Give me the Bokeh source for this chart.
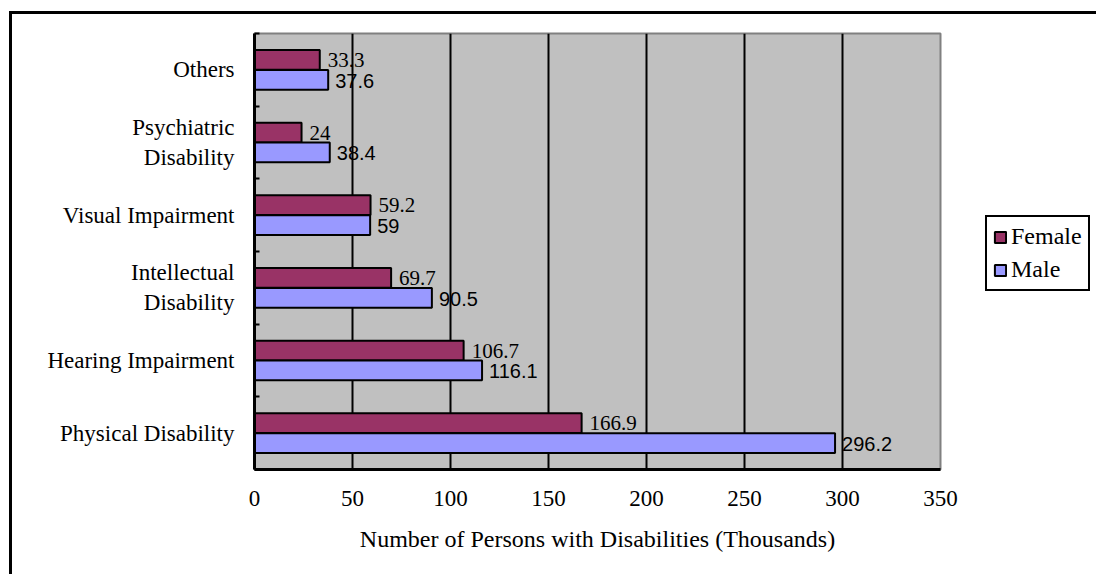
from bokeh.plotting import figure
from bokeh.models import (Range1d, FixedTicker, ColumnDataSource, Legend, LegendItem,
                          LinearAxis, Grid)
from bokeh.embed import file_html
from bokeh.resources import INLINE
from bokeh.core.properties import value
import numpy as np

# Data (bottom to top)
categories = ["Physical Disability", "Hearing Impairment", "Intellectual\nDisability",
              "Visual Impairment", "Psychiatric\nDisability", "Others"]
female = [166.9, 106.7, 69.7, 59.2, 24, 33.3]
male = [296.2, 116.1, 90.5, 59, 38.4, 37.6]
female_labels = ["166.9", "106.7", "69.7", "59.2", "24", "33.3"]
male_labels = ["296.2", "116.1", "90.5", "59", "38.4", "37.6"]
x_ticks = [0, 50, 100, 150, 200, 250, 300, 350]
x_title = "Number of Persons with Disabilities (Thousands)"

SERIF = "Liberation Serif"
SANS = "Liberation Sans"

n = len(categories)
idx = np.arange(n)
offset = 0.137
bar_h = 0.272

OX, OY = 12, 14  # canvas offset caused by outer border (margin + border)

p = figure(frame_width=686, frame_height=436, output_backend="svg", toolbar_location=None,
           x_range=Range1d(0, 350), y_range=Range1d(-0.5, n - 0.5),
           x_axis_location=None, y_axis_location=None,
           min_border_left=254 - OX, min_border_right=156, min_border_top=33 - OY,
           min_border_bottom=107 - 2)
p.styles = {"margin-left": "9px", "margin-top": "11px",
            "border-left": "3px solid black", "border-top": "3px solid black"}
p.background_fill_color = "#C0C0C0"
p.border_fill_color = "white"
p.outline_line_color = "#808080"
p.outline_line_width = 2

src_f = ColumnDataSource(dict(y=(idx + offset).tolist(), v=female, lab=female_labels))
src_m = ColumnDataSource(dict(y=(idx - offset).tolist(), v=male, lab=male_labels))

rf = p.hbar(y="y", right="v", left=0, height=bar_h, source=src_f,
            fill_color="#993366", line_color="black", line_width=2)
rm = p.hbar(y="y", right="v", left=0, height=bar_h, source=src_m,
            fill_color="#9999FF", line_color="black", line_width=2)

p.text(x="v", y="y", text="lab", source=src_f, x_offset=8, y_offset=0,
       text_font=value(SERIF), text_font_size="21px", text_baseline="middle",
       text_align="left", text_color="black")
p.text(x="v", y="y", text="lab", source=src_m, x_offset=7, y_offset=1,
       text_font=value(SANS), text_font_size="20px", text_baseline="middle",
       text_align="left", text_color="black")

# X axis
xaxis = LinearAxis(ticker=FixedTicker(ticks=x_ticks), axis_label=x_title)
xaxis.axis_line_color = "black"
xaxis.axis_line_width = 3
xaxis.major_tick_line_color = None
xaxis.minor_tick_line_color = None
xaxis.major_tick_out = 0
xaxis.major_tick_in = 0
xaxis.major_label_standoff = 21
xaxis.major_label_text_font = SERIF
xaxis.major_label_text_font_size = "23px"
xaxis.major_label_text_color = "black"
xaxis.axis_label_text_font = SERIF
xaxis.axis_label_text_font_size = "24px"
xaxis.axis_label_text_font_style = "normal"
xaxis.axis_label_text_color = "black"
xaxis.axis_label_standoff = 17
p.add_layout(xaxis, "below")

# Y axis with category labels, ticks at category boundaries
yaxis = LinearAxis(ticker=FixedTicker(ticks=idx.tolist(),
                                      minor_ticks=(np.arange(n + 1) - 0.5).tolist()))
yaxis.major_label_overrides = {int(i): c for i, c in zip(idx, categories)}
yaxis.axis_line_color = "black"
yaxis.axis_line_width = 3
yaxis.major_tick_line_color = None
yaxis.major_tick_in = 0
yaxis.major_tick_out = 0
yaxis.minor_tick_line_color = "black"
yaxis.minor_tick_line_width = 2
yaxis.minor_tick_in = 5
yaxis.minor_tick_out = 0
yaxis.major_label_standoff = 20
yaxis.major_label_text_font = SERIF
yaxis.major_label_text_font_size = "23px"
yaxis.major_label_text_color = "black"
p.add_layout(yaxis, "left")

p.xgrid.visible = False
p.ygrid.visible = False
grid = Grid(dimension=0, ticker=FixedTicker(ticks=x_ticks), grid_line_color="black",
            grid_line_width=2)
p.add_layout(grid)

legend = Legend(items=[LegendItem(label="Female", renderers=[rf]),
                       LegendItem(label="Male", renderers=[rm])],
                location=(45, 178))
legend.label_text_font = SERIF
legend.label_text_font_size = "24px"
legend.label_text_color = "black"
legend.glyph_width = 14
legend.glyph_height = 14
legend.label_standoff = 4
legend.padding = 6
legend.spacing = 6
legend.margin = 0
legend.border_line_color = "black"
legend.border_line_alpha = 1
legend.border_line_width = 2
legend.background_fill_color = "white"
legend.background_fill_alpha = 1
p.add_layout(legend, "right")

open("out.html", "w").write(file_html(p, INLINE))
